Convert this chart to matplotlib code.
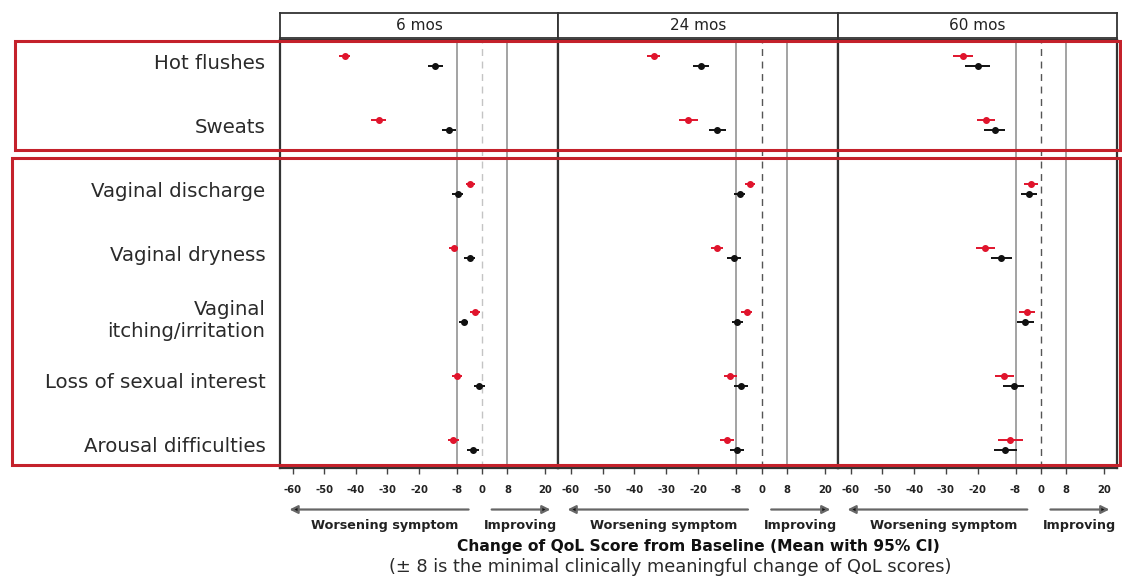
import matplotlib
matplotlib.use("Agg")
import matplotlib.pyplot as plt
from matplotlib.patches import Rectangle
import matplotlib.transforms as mtransforms

plt.rcParams['font.family'] = ['DejaVu Sans']

# ---------------- data ----------------
categories = ["Hot flushes", "Sweats", "Vaginal discharge", "Vaginal dryness",
              "Vaginal\nitching/irritation", "Loss of sexual interest",
              "Arousal difficulties"]
timepoints = ["6 mos", "24 mos", "60 mos"]

red_mean_6 = [-43.5, -32.8, -3.7, -9.0, -2.2, -7.9, -9.1]
red_mean_24 = [-33.9, -23.0, -3.7, -14.0, -4.7, -9.9, -11.0]
red_mean_60 = [-24.6, -17.3, -3.0, -17.5, -4.4, -11.5, -9.7]
black_mean_6 = [-14.9, -10.6, -7.8, -4.0, -5.9, -0.9, -2.9]
black_mean_24 = [-19.1, -14.0, -6.9, -8.7, -7.6, -6.5, -7.6]
black_mean_60 = [-20.0, -14.6, -3.7, -12.5, -4.9, -8.6, -11.2]

red_ci_6 = [1.7, 2.4, 1.5, 1.5, 1.5, 1.5, 1.8]
red_ci_24 = [2.1, 3.0, 1.6, 2.0, 1.8, 2.0, 2.2]
red_ci_60 = [3.2, 2.9, 2.2, 2.9, 2.6, 2.9, 3.9]
black_ci_6 = [2.4, 2.2, 1.8, 1.6, 1.5, 1.8, 1.8]
black_ci_24 = [2.6, 2.7, 1.8, 2.2, 1.8, 2.2, 2.2]
black_ci_60 = [3.9, 3.3, 2.5, 3.3, 2.6, 3.2, 3.6]

xticks = [-60, -50, -40, -30, -20, -8, 0, 8, 20]
xtick_labels = ["-60", "-50", "-40", "-30", "-20", "-8", "0", "8", "20"]
mcid_lines = [-8, 8]

red_means = [red_mean_6, red_mean_24, red_mean_60]
black_means = [black_mean_6, black_mean_24, black_mean_60]
red_cis = [red_ci_6, red_ci_24, red_ci_60]
black_cis = [black_ci_6, black_ci_24, black_ci_60]

# ---------------- figure ----------------
W, H = 1122, 578
fig = plt.figure(figsize=(W / 100, H / 100), dpi=100)

def fx(px):
    return px / W

def fy(py):
    return 1 - py / H

RED = "#e0142c"
BLACK = "#111111"
panel_x = [280, 558, 838, 1117]
top_px, bot_px = 40, 468

ypos = list(range(len(categories)))
off = 0.075

for i, tp in enumerate(timepoints):
    left = panel_x[i]
    width = panel_x[i + 1] - panel_x[i]
    ax = fig.add_axes([fx(left), fy(bot_px), fx(width), (bot_px - top_px) / H])
    ax.set_xlim(-64, 24)
    ax.set_ylim(6.36, -0.33)

    for v in mcid_lines:
        ax.axvline(v, color="#8a8a8a", lw=1.1, zorder=1)
    ax.axvline(0, color="#c4c4c4" if i == 0 else "#555555", lw=1.0,
               ls=(0, (5, 4)), zorder=1)

    ax.errorbar(red_means[i], [y - off for y in ypos], xerr=red_cis[i],
                fmt="o", color=RED, ms=4, elinewidth=1.4, capsize=0, zorder=3)
    ax.errorbar(black_means[i], [y + off for y in ypos], xerr=black_cis[i],
                fmt="o", color=BLACK, ms=4, elinewidth=1.4, capsize=0, zorder=3)

    ax.set_xticks(xticks)
    ax.set_xticklabels(xtick_labels, fontsize=7.2, fontweight="bold", color="#222222")
    ax.tick_params(axis="x", length=4, width=1.0, color="#444444", pad=8)
    if i == 0:
        ax.set_yticks(ypos)
        ax.set_yticklabels(categories, fontsize=14.2, color="#2a2a2a")
        ax.tick_params(axis="y", length=0, pad=10.5)
    else:
        ax.set_yticks([])
    for s in ax.spines.values():
        s.set_color("#333333")
        s.set_linewidth(1.6)

    # arrows below the axis
    trans = mtransforms.blended_transform_factory(ax.transData, ax.transAxes)
    for x_from, x_to in [(-4.3, -61), (3.0, 21.6)]:
        ax.annotate("", xy=(x_to, -0.097), xytext=(x_from, -0.097), xycoords=trans,
                    textcoords=trans,
                    arrowprops=dict(arrowstyle="-|>", ec="#666666", fc="#111111",
                                    lw=1.6, mutation_scale=12, shrinkA=0, shrinkB=0),
                    annotation_clip=False)
    ax.text(-30.8, -0.135, "Worsening symptom", transform=trans, ha="center",
            va="center", fontsize=9.2, fontweight="bold", color="#222222")
    ax.text(12.2, -0.135, "Improving", transform=trans, ha="center",
            va="center", fontsize=9.2, fontweight="bold", color="#222222")

    # strip header
    sax = fig.add_axes([fx(left), fy(38), fx(width), 25 / H])
    sax.set_xticks([])
    sax.set_yticks([])
    for s in sax.spines.values():
        s.set_color("#333333")
        s.set_linewidth(1.3)
    sax.text(0.5, 0.5, tp, ha="center", va="center", fontsize=11, color="#222222",
             transform=sax.transAxes)

fig.text(fx(698), fy(546), "Change of QoL Score from Baseline (Mean with 95% CI)",
         ha="center", va="center", fontsize=11.2, fontweight="bold", color="#111111")
fig.text(fx(670), fy(567), "(\u00b1 8 is the minimal clinically meaningful change of QoL scores)",
         ha="center", va="center", fontsize=12.8, color="#2a2a2a")

# red highlight boxes
fig.patches.append(Rectangle((fx(15), fy(150)), fx(1120 - 15), (150 - 41) / H,
                             transform=fig.transFigure, fill=False,
                             edgecolor="#c4212b", lw=2.2, zorder=10))
fig.patches.append(Rectangle((fx(12), fy(465)), fx(1120 - 12), (465 - 158) / H,
                             transform=fig.transFigure, fill=False,
                             edgecolor="#c4212b", lw=2.2, zorder=10))

fig.savefig("out.png", dpi=100)
